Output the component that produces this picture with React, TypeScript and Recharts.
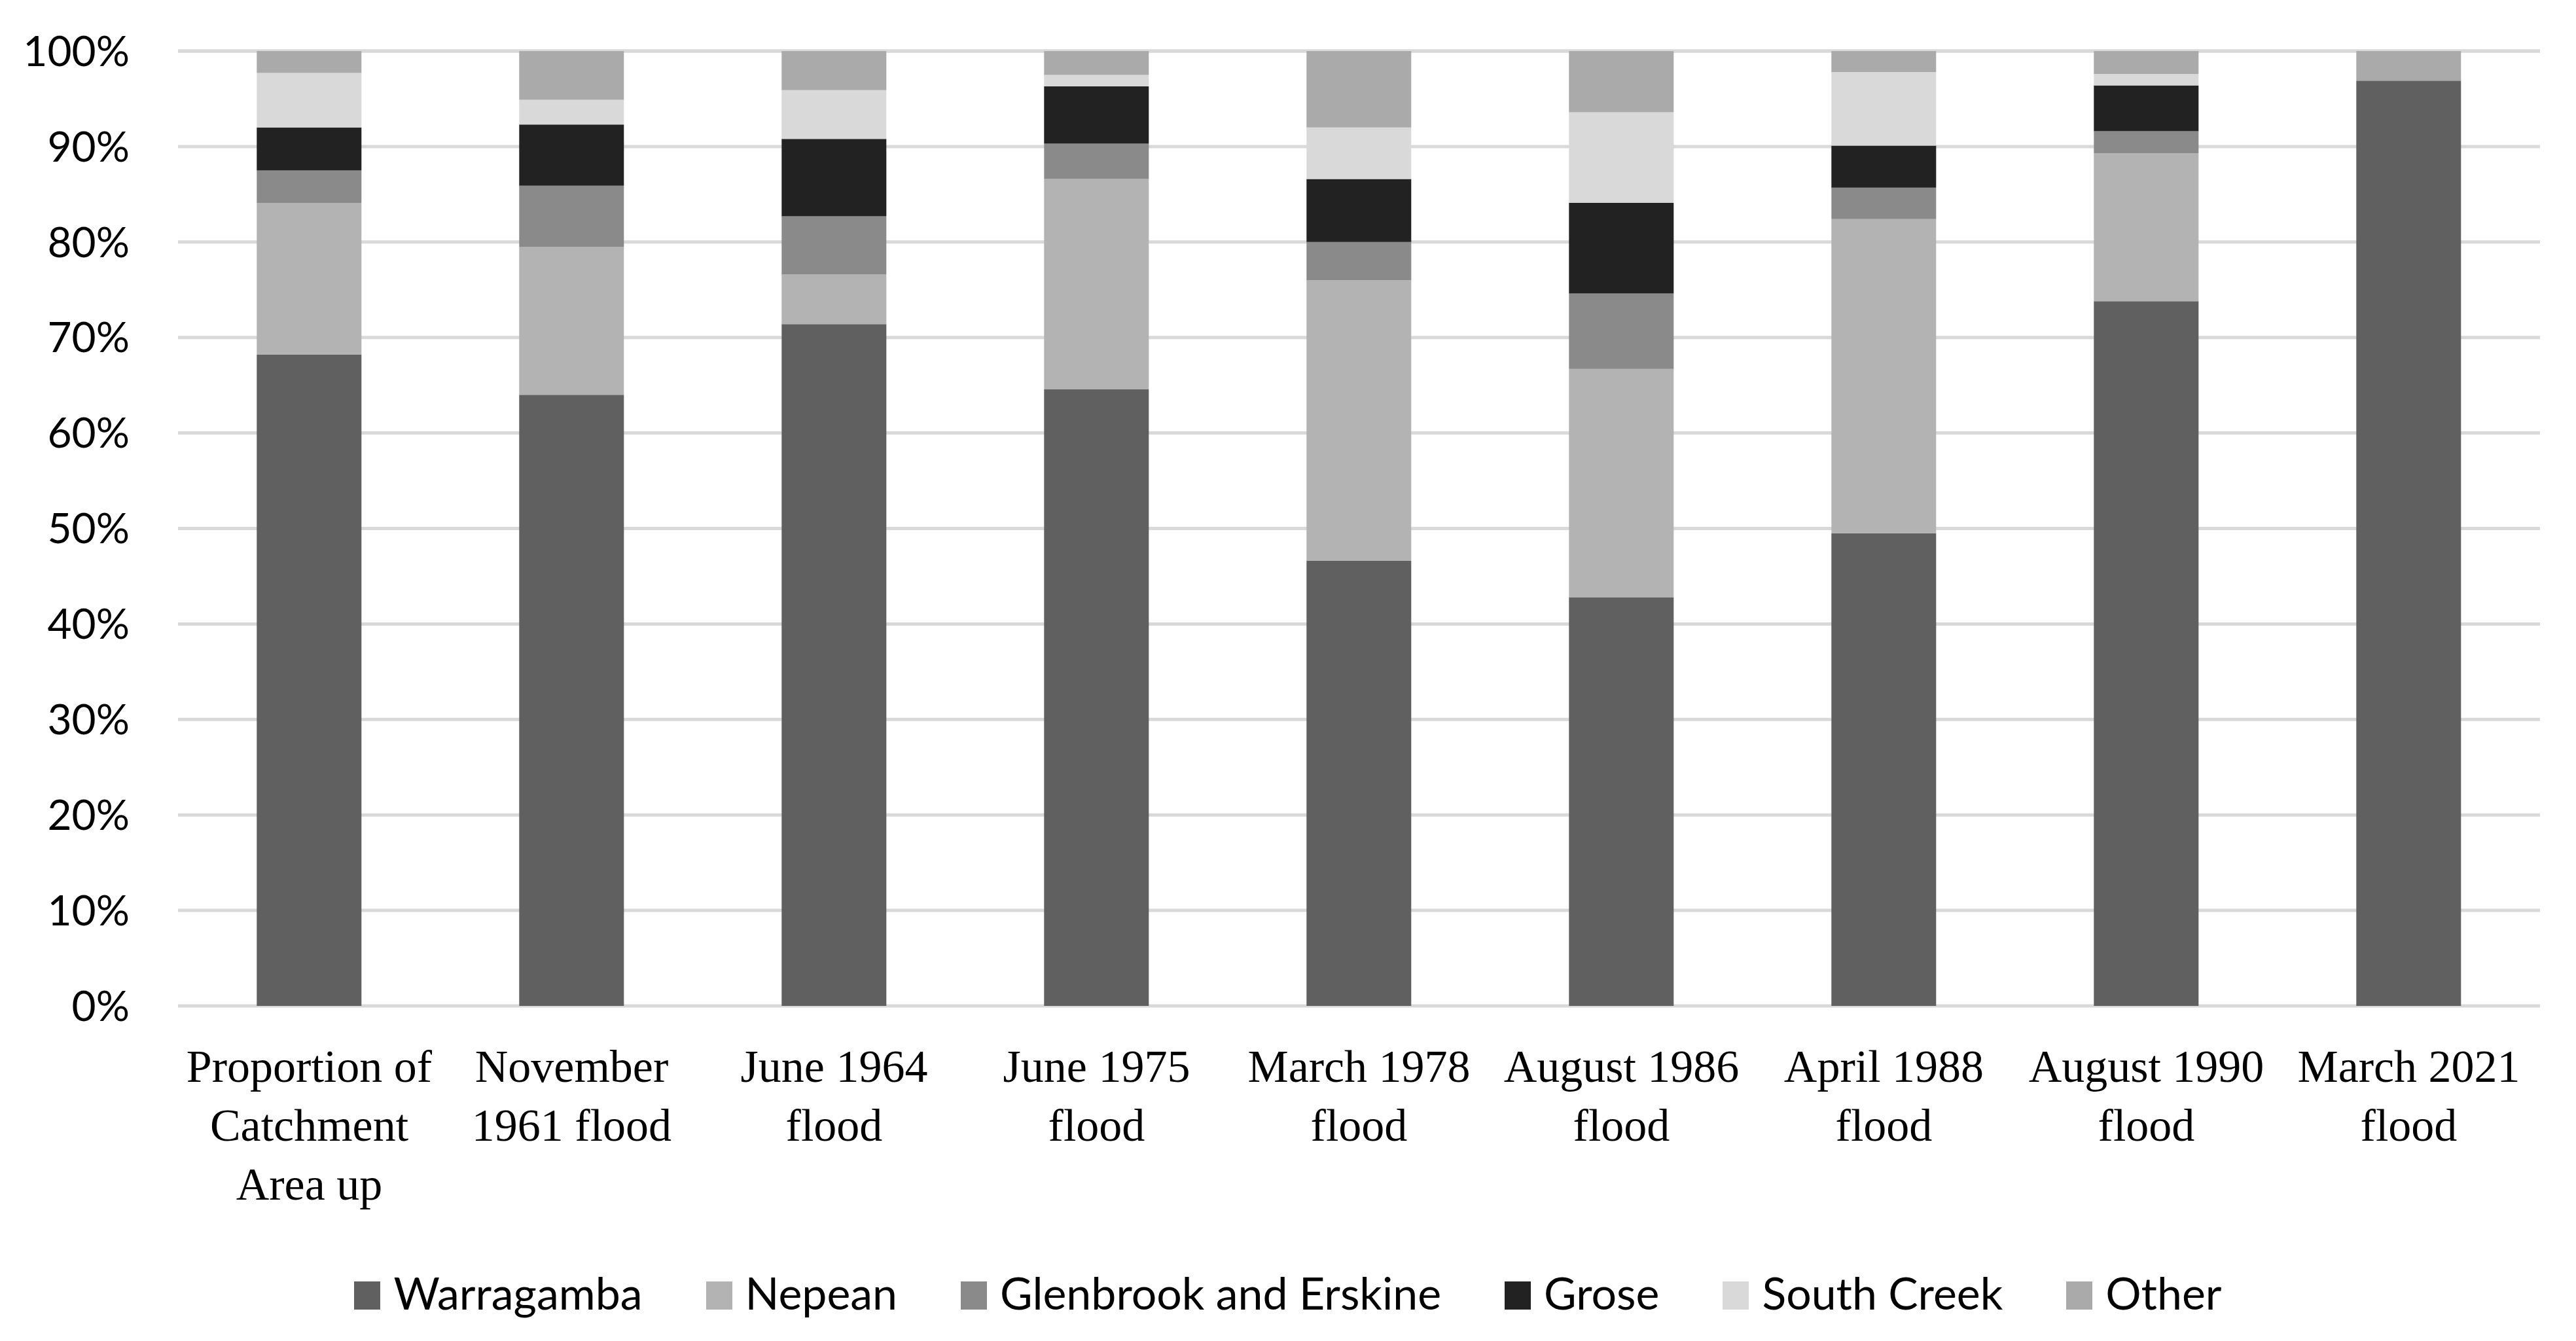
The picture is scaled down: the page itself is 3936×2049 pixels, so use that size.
import React from 'react';
import { BarChart, Bar, XAxis, YAxis, CartesianGrid, Legend } from 'recharts';

const categories = [
  'Proportion of\nCatchment\nArea up',
  'November\n1961 flood',
  'June 1964\nflood',
  'June 1975\nflood',
  'March 1978\nflood',
  'August 1986\nflood',
  'April 1988\nflood',
  'August 1990\nflood',
  'March 2021\nflood',
];

const warragamba = [68.2, 64.0, 71.4, 64.6, 46.6, 42.8, 49.5, 73.8, 96.9];
const nepean = [15.9, 15.5, 5.2, 22.0, 29.4, 23.9, 32.9, 15.5, 0];
const glenbrook = [3.4, 6.4, 6.1, 3.7, 4.0, 7.9, 3.3, 2.3, 0];
const grose = [4.5, 6.4, 8.1, 6.0, 6.6, 9.5, 4.4, 4.8, 0];
const southCreek = [5.7, 2.6, 5.1, 1.2, 5.4, 9.5, 7.7, 1.2, 0];
const other = [2.3, 5.1, 4.1, 2.5, 8.0, 6.4, 2.2, 2.4, 3.1];

const yTicks = [0, 10, 20, 30, 40, 50, 60, 70, 80, 90, 100];

const seriesKeys = ['warragamba', 'nepean', 'glenbrook', 'grose', 'southCreek', 'other'];
const seriesNames = ['Warragamba', 'Nepean', 'Glenbrook and Erskine', 'Grose', 'South Creek', 'Other'];
const seriesColors = ['#606060', '#b3b3b3', '#8a8a8a', '#222222', '#d9d9d9', '#aaaaaa'];
const seriesValues = [warragamba, nepean, glenbrook, grose, southCreek, other];

const data = categories.map((c, i) => {
  const row: Record<string, any> = { name: c };
  seriesKeys.forEach((k, j) => {
    row[k] = seriesValues[j][i];
  });
  return row;
});

const XTick = (props: any) => {
  const { x, y, payload } = props;
  const lines = String(payload.value).split('\n');
  return (
    <text
      x={x}
      y={y}
      textAnchor="middle"
      fill="#000"
      style={{ fontFamily: '"Liberation Serif", serif', fontSize: 70 }}
    >
      {lines.map((l, i) => (
        <tspan key={i} x={x} dy={i === 0 ? 116 : 90}>
          {l}
        </tspan>
      ))}
    </text>
  );
};

const LegendContent = () => {
  return (
    <div
      style={{
        display: 'flex',
        justifyContent: 'center',
        fontFamily: 'Lato, sans-serif',
        fontSize: 68,
        lineHeight: '68px',
        color: '#000',
        whiteSpace: 'nowrap',
      }}
    >
      {seriesNames.map((n, i) => (
        <span key={n} style={{ marginRight: i === seriesNames.length - 1 ? 0 : 97 }}>
          <span
            style={{
              display: 'inline-block',
              width: 40,
              height: 43,
              background: seriesColors[i],
              marginRight: 20,
            }}
          />
          {n}
        </span>
      ))}
    </div>
  );
};

export default function App() {
  return (
    <div style={{ width: 3920, height: 2033, background: '#fff' }}>
      <BarChart
        width={3920}
        height={2033}
        data={data}
        margin={{ top: 70, right: 47, bottom: 124, left: 0 }}
        barCategoryGap="30%"
      >
        <CartesianGrid vertical={false} stroke="#d9d9d9" strokeWidth={5} />
        <XAxis
          dataKey="name"
          axisLine={false}
          tickLine={false}
          tickSize={0}
          tickMargin={0}
          height={380}
          interval={0}
          tick={<XTick />}
        />
        <YAxis
          domain={[0, 100]}
          ticks={yTicks}
          tickFormatter={(v: number) => `${v}%`}
          axisLine={false}
          tickLine={false}
          tickSize={0}
          tickMargin={74}
          width={264}
          interval={0}
          tick={{ fill: '#000', fontSize: 64, fontFamily: 'Lato, sans-serif' }}
        />
        <Legend
          verticalAlign="middle"
          align="center"
          layout="horizontal"
          wrapperStyle={{ top: 1933, left: 0, width: 3920, height: 68 }}
          content={<LegendContent />}
        />
        {seriesKeys.map((k, j) => (
          <Bar
            key={k}
            dataKey={k}
            name={seriesNames[j]}
            stackId="a"
            fill={seriesColors[j]}
            isAnimationActive={false}
          />
        ))}
      </BarChart>
    </div>
  );
}
